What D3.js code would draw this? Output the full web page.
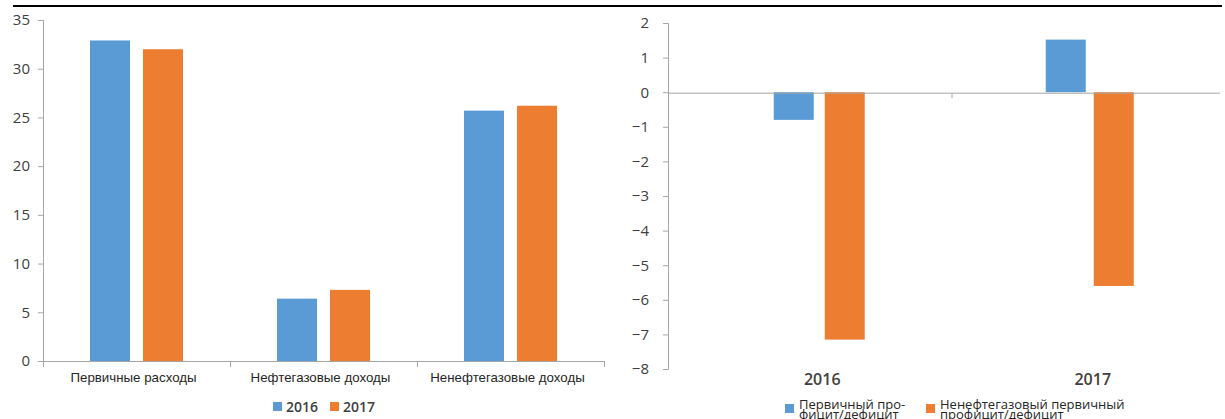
<!DOCTYPE html>
<html><head><meta charset="utf-8">
<script src="https://cdn.jsdelivr.net/npm/d3@7"></script>
<style>body{margin:0;background:#fff}svg{display:block}</style>
</head><body>
<svg id="c" width="1225" height="419"></svg>
<script>
const leftCategories = ["Первичные расходы","Нефтегазовые доходы","Ненефтегазовые доходы"];
const leftSeries = ["2016","2017"];
const left2016 = [32.9, 6.4, 25.7];
const left2017 = [32.0, 7.3, 26.2];
const leftTicks = [0,5,10,15,20,25,30,35];

const rightCategories = ["2016","2017"];
const rightSeries = ["Первичный про-|фицит/дефицит","Ненефтегазовый первичный|профицит/дефицит"];
const rightPrimary = [-0.8, 1.52];
const rightNonOil = [-7.15, -5.6];
const rightTicks = [2,1,0,-1,-2,-3,-4,-5,-6,-7,-8];

const colors = ["#5b9bd5","#ed7d31"];
const txt = "#404040", axc = "#a6a6a6";
const font = "'Open Sans', sans-serif";
const svg = d3.select("#c");

svg.append("line").attr("x1",13).attr("x2",1222).attr("y1",6).attr("y2",6)
  .attr("stroke","#000").attr("stroke-width",2);

// LEFT CHART
const yL = d3.scaleLinear().domain([0,35]).range([361,20]);
const xL = d3.scaleBand().domain(leftCategories).range([43,604]);
const lData = leftCategories.map((c,i)=>({c, v:[left2016[i], left2017[i]]}));
const barW = 40, gapL = 13;
const gL = svg.append("g");
lData.forEach(d=>{
  d.v.forEach((v,j)=>{
    const cx = xL(d.c)+xL.bandwidth()/2;
    const x = j===0 ? cx - gapL/2 - barW : cx + gapL/2;
    gL.append("rect").attr("x",x).attr("width",barW)
      .attr("y",yL(v)).attr("height",yL(0)-yL(v)).attr("fill",colors[j]);
  });
});
const yAxL = svg.append("g").attr("transform","translate(43,0)")
  .call(d3.axisLeft(yL).tickValues(leftTicks).tickSize(5).tickPadding(8));
yAxL.select(".domain").attr("stroke",axc).attr("d","M-5,20.5H0.5V361");
yAxL.selectAll(".tick line").attr("stroke",axc);
yAxL.selectAll("text").attr("fill",txt).style("font-family",font).style("font-size","15px");
// x axis
svg.append("line").attr("x1",43).attr("x2",604).attr("y1",361.5).attr("y2",361.5).attr("stroke",axc);
const bounds = leftCategories.map(c=>xL(c)).concat([xL.range()[1]]);
bounds.forEach(b=>svg.append("line").attr("x1",b+0.5).attr("x2",b+0.5).attr("y1",361).attr("y2",367).attr("stroke",axc));
leftCategories.forEach(c=>{
  svg.append("text").attr("x",xL(c)+xL.bandwidth()/2-3).attr("y",382)
    .attr("text-anchor","middle").attr("fill","#262626")
    .style("font-family","'Liberation Sans', Arial, sans-serif").style("font-size","13.3px").text(c);
});
// left legend
const lgL = [{x:273, t:leftSeries[0]},{x:330,t:leftSeries[1]}];
lgL.forEach((l,i)=>{
  svg.append("rect").attr("x",l.x).attr("y",402).attr("width",9).attr("height",9).attr("fill",colors[i]);
  svg.append("text").attr("x",l.x+13).attr("y",412).attr("fill",txt)
    .style("font-family",font).style("font-size","14px").style("font-weight","600").text(l.t);
});

// RIGHT CHART
const yR = d3.scaleLinear().domain([-8,2]).range([369,23]);
const xR = d3.scaleBand().domain(rightCategories).range([684,1225]);
const gapR = [11,8];
rightCategories.forEach((c,i)=>{
  const vals = [rightPrimary[i], rightNonOil[i]];
  const cx = xR(c)+xR.bandwidth()/2;
  vals.forEach((v,j)=>{
    const x = j===0 ? cx - gapR[i]/2 - barW : cx + gapR[i]/2;
    svg.append("rect").attr("x",x).attr("width",barW)
      .attr("y",yR(Math.max(0,v))).attr("height",Math.abs(yR(v)-yR(0))).attr("fill",colors[j]);
  });
});
const yAxR = svg.append("g").attr("transform","translate(668,0)")
  .call(d3.axisLeft(yR).tickValues(rightTicks).tickSize(5).tickPadding(14));
yAxR.select(".domain").attr("stroke",axc).attr("d","M-5,23.5H0.5V369.5H-5");
yAxR.selectAll(".tick line").attr("stroke",axc);
yAxR.selectAll("text").attr("fill",txt).style("font-family",font).style("font-size","15px");
svg.append("line").attr("x1",668).attr("x2",1220).attr("y1",yR(0)+1).attr("y2",yR(0)+1).attr("stroke",axc);
svg.append("line").attr("x1",xR("2017")-2.5).attr("x2",xR("2017")-2.5)
  .attr("y1",yR(0)+1).attr("y2",yR(0)+6).attr("stroke",axc);
rightCategories.forEach(c=>{
  svg.append("text").attr("x",xR(c)+xR.bandwidth()/2+3).attr("y",385)
    .attr("text-anchor","middle").attr("fill",txt)
    .style("font-family",font).style("font-size","16px").style("font-weight","600").text(c);
});
const lgR = [{x:785},{x:926}];
lgR.forEach((l,i)=>{
  svg.append("rect").attr("x",l.x).attr("y",404).attr("width",9).attr("height",9).attr("fill",colors[i]);
  const lines = rightSeries[i].split("|");
  const t = svg.append("text").attr("fill","#262626")
    .style("font-family",font).style("font-size","13px");
  lines.forEach((ln,k)=>t.append("tspan").attr("x",l.x+14).attr("y",409+k*10).text(ln));
});
</script>
</body></html>
